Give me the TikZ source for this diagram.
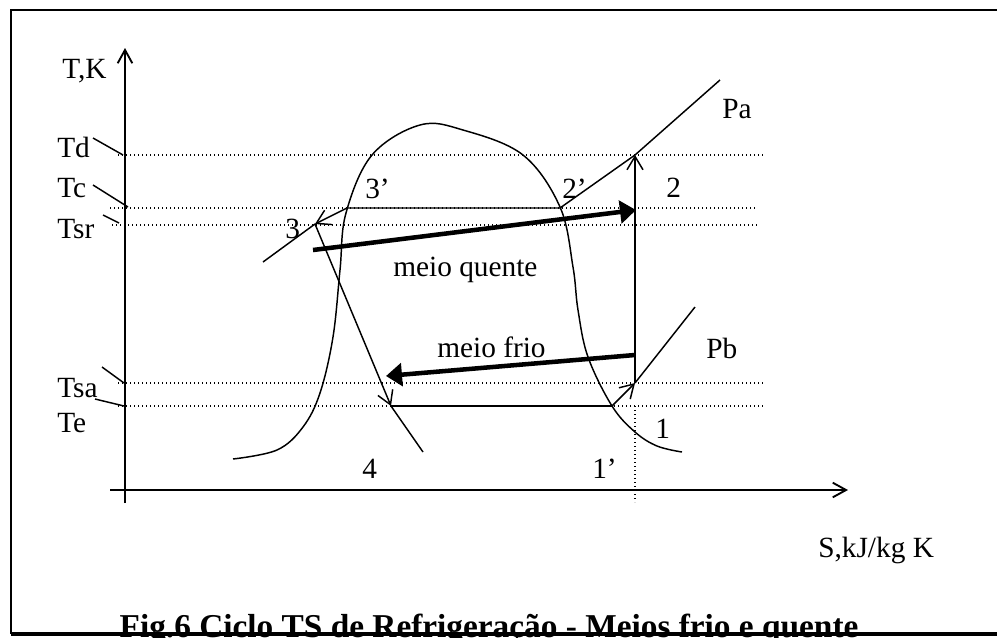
\documentclass[tikz,border=0pt]{standalone}
\usepackage{fontspec}
\setmainfont{Liberation Serif}
\usetikzlibrary{arrows.meta}
\begin{document}
\begin{tikzpicture}[x=0.75pt,y=-0.75pt,
  every node/.style={font=\fontsize{22}{26}\selectfont,inner sep=0pt},
  lbl/.style={anchor=base west},
  cyc/.style={line width=1.1pt},
  level/.style={line width=1.1pt,dash pattern=on 1.1pt off 1.9pt},
  axis/.style={line width=1.5pt,-{Straight Barb[length=10pt,width=11pt,line width=1.4pt]}},
  flow/.style={line width=1.1pt,-{Straight Barb[length=10pt,width=12pt,line width=1.1pt]}},
  medium/.style={line width=3.4pt,-{Triangle[length=12pt,width=17pt]}}]
  \useasboundingbox (0,0) rectangle (997,637);
  \clip (0,0) rectangle (997,637);
  % Levels
  \draw[level] (118,155) -- (763,155);
  \draw[level] (110,208) -- (757,208);
  \draw[level] (112,225) -- (759,225);
  \draw[level] (118,383) -- (765,383);
  \draw[level] (118,406) -- (765,406);
  \draw[level] (635,406) -- (635,502);
  % Axes
  \draw[axis] (125,503) -- (125,48);
  \draw[axis] (110,490) -- (848,490);
  \node[lbl] (tk) at (62,78) {T,K};
  \node[lbl] (sk) at (818,557) {S,kJ/kg K};
  % Level labels
  \node[lbl] (lTd) at (57,157) {Td};
  \node[lbl] (lTc) at (57,197) {Tc};
  \node[lbl] (lTsr) at (57,238) {Tsr};
  \node[lbl] (lTsa) at (57,397) {Tsa};
  \node[lbl] (lTe) at (57,432) {Te};
  \draw[cyc] (93,138) -- (123,155);
  \draw[cyc] (93,185) -- (128,207);
  \draw[cyc] (103,215) -- (119,223);
  \draw[cyc] (102,367) -- (124,383);
  \draw[cyc] (95,399) -- (124,406);
  % Saturation dome
  \draw[cyc] plot[smooth,tension=0.6] coordinates {(233,459) (277,450) (303,427)
    (320,393) (333,337) (340,270) (346,213) (372,155) (420,125) (463,130)
    (523,155) (560,207) (573,267) (578,310) (588,357) (612,406) (635,432)
    (657,446) (682,452)};
  % Cycle points
  \coordinate (s3) at (315,224);
  \coordinate (s3p) at (347,208);
  \coordinate (s2p) at (560,208);
  \coordinate (s2) at (635,155);
  \coordinate (s1) at (635,383);
  \coordinate (s1p) at (612,406);
  \coordinate (s4) at (391,406);
  \coordinate (paL) at (263,262);
  \coordinate (paR) at (720,80);
  \coordinate (pbR) at (695,307);
  \coordinate (e4) at (423,452);
  % Cycle
  \draw[cyc] (paL) -- (s3);
  \draw[flow] (s3p) -- (s3);
  \draw[cyc] (s3p) -- (s2p) -- (s2) -- (paR);
  \draw[flow] (s3) -- (s4);
  \draw[cyc] (s4) -- (e4);
  \draw[cyc] (s4) -- (s1p);
  \draw[flow] (s1p) -- (s1);
  \draw[cyc] (s1) -- (pbR);
  \draw[flow] (s1) -- (s2);
  % Media
  \coordinate (mqA) at (313,250);
  \coordinate (mqB) at (636,210);
  \coordinate (mfA) at (635,355);
  \coordinate (mfB) at (386,376);
  \draw[medium] (mqA) -- (mqB);
  \draw[medium] (mfA) -- (mfB);
  \node[lbl] (lmq) at (393,276) {meio quente};
  \node[lbl] (lmf) at (437,357) {meio frio};
  % Point labels
  \node[lbl] (l3p) at (365,198) {3’};
  \node[lbl] (l2p) at (562,198) {2’};
  \node[lbl] (l3) at (285,238) {3};
  \node[lbl] (l2) at (666,197) {2};
  \node[lbl] (l1) at (655,438) {1};
  \node[lbl] (l1p) at (592,478) {1’};
  \node[lbl] (l4) at (362,478) {4};
  \node[lbl] (lPa) at (722,118) {Pa};
  \node[lbl] (lPb) at (706,358) {Pb};
  % Caption and frame
  \node[anchor=base,font=\bfseries\fontsize{25}{30}\selectfont] (cap) at (489,637)
    {Fig.6 Ciclo TS de Refrigeração - Meios frio e quente};
  \draw[line width=1.6pt] (1005,10) -- (11,10) -- (11,634);
  \draw[line width=2.4pt] (11,634) -- (1005,634);
\end{tikzpicture}
\end{document}
